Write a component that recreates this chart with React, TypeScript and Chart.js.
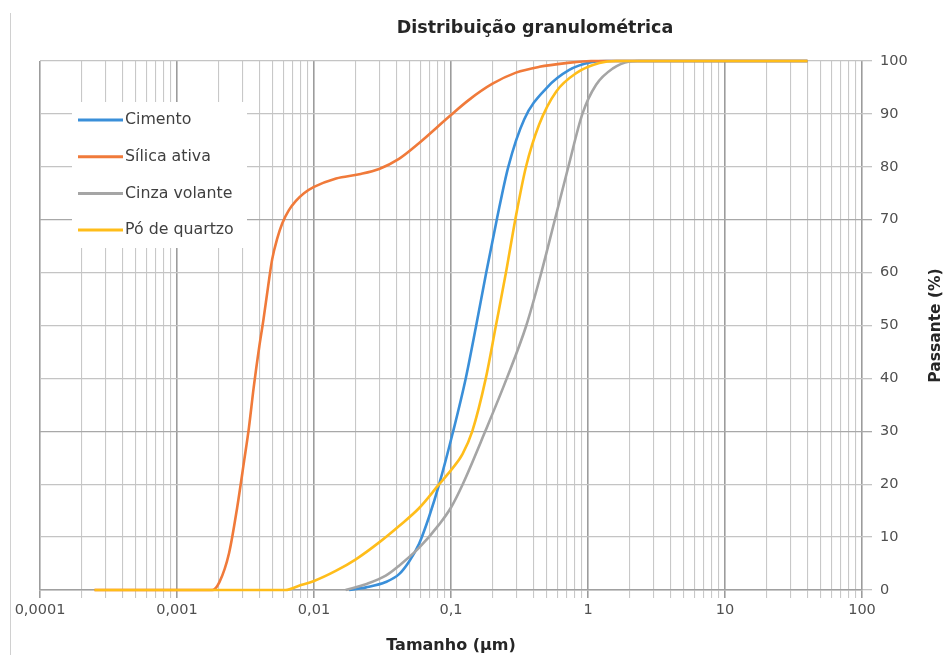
import React, { useEffect, useRef } from 'react';
import { Chart, registerables } from 'chart.js';

Chart.register(...registerables);

// ---- data (size in µm, % passing) ----
const seriesNames = ['Cimento', 'Sílica ativa', 'Cinza volante', 'Pó de quartzo'];
const seriesColors = ['#3a8fd9', '#f07a3a', '#a5a5a5', '#ffbd1a'];

const cimentoSize = [0.018, 0.024, 0.0334, 0.0418, 0.04948, 0.0586, 0.0693, 0.082, 0.1037, 0.1281, 0.1527, 0.1808, 0.2158, 0.2619, 0.3427, 0.494, 0.73, 1.05, 1.36, 40];
const cimentoPass = [0, 0.5, 1.5, 3.0, 5.4, 8.8, 13.9, 20.0, 30.0, 40.0, 50.0, 60.0, 70.0, 80.0, 89.0, 94.8, 98.3, 99.75, 100, 100];

const silicaSize = [0.00025, 0.0017, 0.00181, 0.00204, 0.0024, 0.00275, 0.00309, 0.00335, 0.00363, 0.00398, 0.00427, 0.00463, 0.00495, 0.0054, 0.00586, 0.00656, 0.00735, 0.00845, 0.01, 0.0145, 0.0214, 0.0299, 0.0417, 0.0586, 0.097, 0.136, 0.201, 0.298, 0.442, 0.69, 1.05, 40];
const silicaPass = [0, 0, 0, 1.5, 7.0, 15.6, 24.4, 30.7, 38.3, 45.9, 51.0, 57.5, 62.5, 66.5, 69.3, 71.8, 73.5, 75.0, 76.2, 77.8, 78.6, 79.6, 81.5, 84.5, 89.5, 92.7, 95.7, 97.8, 98.9, 99.6, 100, 100];

const cinzaSize = [0.017, 0.0239, 0.0334, 0.0418, 0.0586, 0.082, 0.1, 0.1218, 0.1778, 0.2553, 0.3545, 0.4564, 0.5728, 0.7188, 0.91, 1.146, 1.52, 2.01, 2.3, 40];
const cinzaPass = [0, 1.1, 2.7, 4.6, 8.0, 12.4, 15.6, 20.0, 30.0, 40.0, 50.0, 60.0, 70.0, 80.0, 90.0, 95.5, 98.6, 99.9, 100, 100];

const quartzoSize = [0.00025, 0.0056, 0.0062, 0.00777, 0.01, 0.0144, 0.0202, 0.0299, 0.0418, 0.0586, 0.082, 0.1003, 0.1213, 0.1429, 0.1794, 0.2128, 0.2519, 0.2945, 0.3527, 0.44, 0.585, 0.82, 1.21, 1.6, 40];
const quartzoPass = [0, 0, 0, 0.8, 1.7, 3.6, 5.8, 9.0, 12.1, 15.5, 20.0, 22.7, 25.7, 30.0, 40.0, 50.0, 60.0, 70.0, 80.0, 88.0, 94.2, 97.7, 99.6, 100, 100];

// ---- axes ----
const xDecades = [0.0001, 0.001, 0.01, 0.1, 1, 10, 100];
const xTickLabels = ['0,0001', '0,001', '0,01', '0,1', '1', '10', '100'];
const minorMultipliers = [1, 2, 3, 4, 5, 6, 7, 8, 9];
const yTickStep = 10;
const yMin = 0;
const yMax = 100;

const chartTitle = 'Distribuição granulométrica';
const xTitle = 'Tamanho (µm)';
const yTitle = 'Passante (%)';

const FONT = '"DejaVu Sans"';

const isDecade = (v: number) => {
  const l = Math.log10(v);
  return Math.abs(l - Math.round(l)) < 1e-6;
};

const xTickValues: number[] = [];
xDecades.forEach((d, i) => {
  if (i === xDecades.length - 1) xTickValues.push(d);
  else minorMultipliers.forEach((m) => xTickValues.push(Number((m * d).toPrecision(8))));
});

const toPoints = (xs: number[], ys: number[]) => xs.map((x, i) => ({ x, y: ys[i] }));

const overlayPlugin = {
  id: 'overlay',
  beforeDatasetsDraw(chart: any) {
    const { ctx, chartArea } = chart;
    ctx.save();
    ctx.fillStyle = '#ffffff';
    ctx.fillRect(chartArea.left + 32, chartArea.top + 41, 175, 146);
    chart.data.datasets.forEach((ds: any, i: number) => {
      const y = chartArea.top + 59 + i * 36.7;
      ctx.strokeStyle = ds.borderColor;
      ctx.lineWidth = 3;
      ctx.beginPath();
      ctx.moveTo(chartArea.left + 38, y);
      ctx.lineTo(chartArea.left + 83, y);
      ctx.stroke();
      ctx.fillStyle = '#404040';
      ctx.font = `15.8px ${FONT}`;
      ctx.textBaseline = 'middle';
      ctx.textAlign = 'left';
      ctx.fillText(ds.label, chartArea.left + 85, y);
    });
    ctx.restore();
  },
  afterDraw(chart: any) {
    const { ctx, chartArea } = chart;
    ctx.save();
    // frame line at left
    ctx.strokeStyle = '#d0d0d0';
    ctx.lineWidth = 1;
    ctx.beginPath();
    ctx.moveTo(10.5, 13);
    ctx.lineTo(10.5, chart.height);
    ctx.stroke();
    // title
    ctx.fillStyle = '#262626';
    ctx.font = `bold 17.5px ${FONT}`;
    ctx.textAlign = 'center';
    ctx.textBaseline = 'middle';
    ctx.fillText(chartTitle, 535, 28);
    // y title (reads bottom to top)
    ctx.translate(936, (chartArea.top + chartArea.bottom) / 2);
    ctx.rotate(-Math.PI / 2);
    ctx.font = `bold 15.5px ${FONT}`;
    ctx.fillText(yTitle, 0, 0);
    ctx.restore();
  },
};

export default function App() {
  const ref = useRef<HTMLCanvasElement | null>(null);

  useEffect(() => {
    if (!ref.current) return;
    const datasets = [
      [cimentoSize, cimentoPass],
      [silicaSize, silicaPass],
      [cinzaSize, cinzaPass],
      [quartzoSize, quartzoPass],
    ].map(([xs, ys], i) => ({
      label: seriesNames[i],
      data: toPoints(xs, ys),
      borderColor: seriesColors[i],
      backgroundColor: seriesColors[i],
      borderWidth: 2.6,
      pointRadius: 0,
      tension: 0.4,
      cubicInterpolationMode: 'monotone' as const,
      fill: false,
      clip: 6,
      order: 3 - i,
    }));

    const chart = new Chart(ref.current, {
      type: 'line',
      data: { datasets },
      plugins: [overlayPlugin],
      options: {
        animation: false,
        responsive: false,
        devicePixelRatio: 1,
        layout: { padding: { top: 61, left: 40, right: 0, bottom: 0 } },
        plugins: {
          legend: { display: false },
          tooltip: { enabled: false },
          title: { display: false },
        },
        scales: {
          x: {
            type: 'logarithmic',
            position: 'bottom',
            min: xDecades[0],
            max: xDecades[xDecades.length - 1],
            afterBuildTicks: (scale: any) => {
              scale.ticks = xTickValues.map((v) => ({ value: v, major: false }));
            },
            afterFit: (scale: any) => {
              scale.height = 65;
            },
            ticks: {
              autoSkip: false,
              maxRotation: 0,
              minRotation: 0,
              padding: 4,
              color: '#505050',
              font: { family: FONT, size: 14.5 },
              callback: (value: any) => {
                const idx = xDecades.findIndex((d) => Math.abs(Math.log10(d) - Math.log10(Number(value))) < 1e-6);
                return idx >= 0 ? xTickLabels[idx] : '';
              },
            },
            grid: {
              color: (ctx: any) => (ctx.tick && isDecade(ctx.tick.value) ? '#9c9c9c' : '#c8c8c8'),
              lineWidth: (ctx: any) => (ctx.tick && isDecade(ctx.tick.value) ? 1.6 : 1.1),
              tickLength: 8,
              drawTicks: true,
            },
            border: { display: true, color: '#a0a0a0', width: 1.5 },
            title: {
              display: true,
              text: xTitle,
              color: '#262626',
              font: { family: FONT, size: 16, weight: 'bold' },
              padding: { top: 0, bottom: 0 },
            },
          },
          y: {
            type: 'linear',
            position: 'right',
            min: yMin,
            max: yMax,
            afterFit: (scale: any) => {
              scale.width = 87;
            },
            ticks: {
              stepSize: yTickStep,
              padding: 8,
              color: '#505050',
              font: { family: FONT, size: 14.5 },
            },
            grid: {
              color: (ctx: any) => {
                const v = ctx.tick ? ctx.tick.value : -1;
                return v === 30 || v === 70 ? '#a8a8a8' : '#c4c4c4';
              },
              lineWidth: 1.3,
              tickLength: 10,
            },
            border: { display: false },
          },
        },
      } as any,
    });
    return () => chart.destroy();
  }, []);

  return (
    <div style={{ position: 'fixed', left: 0, top: 0, width: 949, height: 655, background: '#ffffff' }}>
      <canvas ref={ref} width={949} height={655} style={{ display: 'block', width: 949, height: 655 }} />
    </div>
  );
}
